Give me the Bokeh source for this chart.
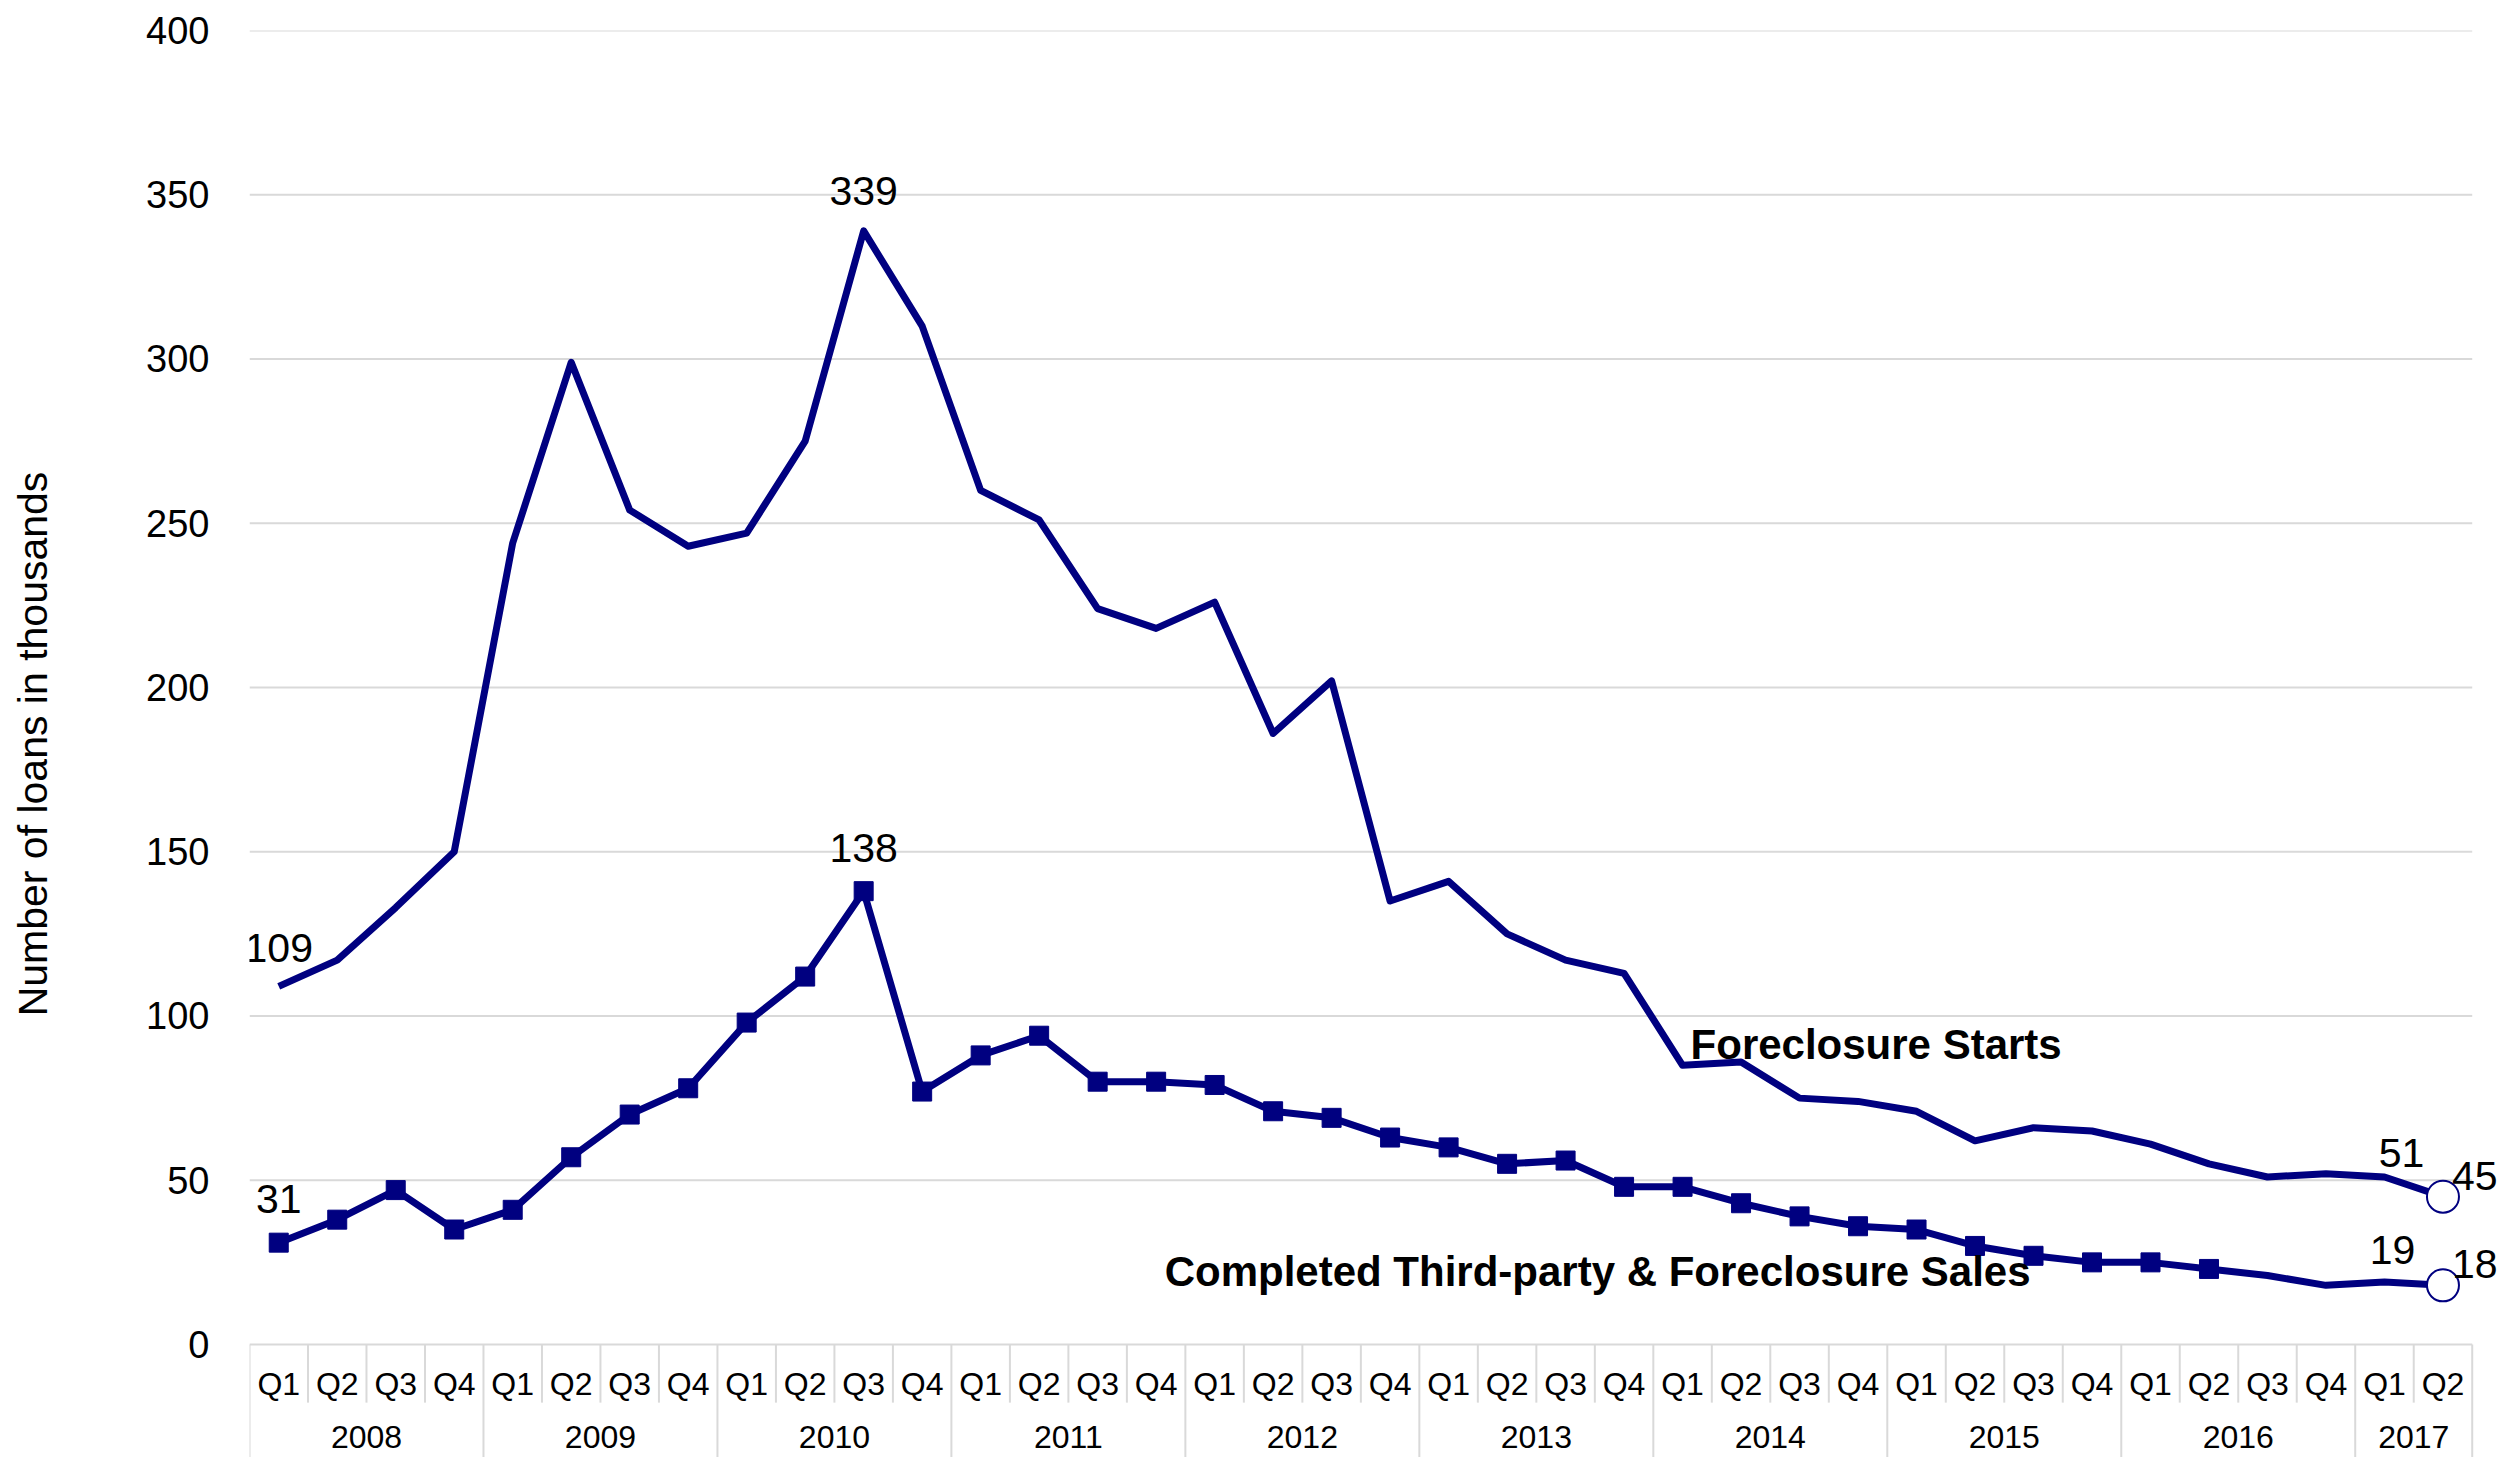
from bokeh.plotting import figure
from bokeh.models import Range1d, FixedTicker, Label
from bokeh.core.properties import value
from bokeh.embed import file_html
from bokeh.resources import INLINE

# ---------------- data ----------------
quarters = ["Q1", "Q2", "Q3", "Q4"] * 9 + ["Q1", "Q2"]
years = ["2008", "2009", "2010", "2011", "2012", "2013", "2014", "2015", "2016", "2017"]

foreclosure_starts = [109, 117, 133, 150, 244, 299, 254, 243, 247, 275,
                      339, 310, 260, 251, 224, 218, 226, 186, 202, 135,
                      141, 125, 117, 113, 85, 86, 75, 74, 71, 62,
                      66, 65, 61, 55, 51, 52, 51, 45]
completed_sales = [31, 38, 47, 35, 41, 57, 70, 78, 98, 112,
                   138, 77, 88, 94, 80, 80, 79, 71, 69, 63,
                   60, 55, 56, 48, 48, 43, 39, 36, 35, 30,
                   27, 25, 25, 23, 21, 18, 19, 18]
y_ticks = [0, 50, 100, 150, 200, 250, 300, 350, 400]

starts_name = "Foreclosure Starts"
sales_name = "Completed Third-party & Foreclosure Sales"
y_title = "Number of loans in thousands"

# ---------------- styles ----------------
NAVY = "#000080"
GRID = "#d9d9d9"
FONT = "Liberation Sans"
Y_BOTTOM = -34.4

n = len(foreclosure_starts)
xs = list(range(n))

p = figure(width=2515, height=1457, output_backend="svg", toolbar_location=None,
           x_range=Range1d(-0.5, n - 0.5 + 0.74), y_range=Range1d(Y_BOTTOM, 400),
           min_border_left=249, min_border_right=0, min_border_top=30,
           min_border_bottom=0, x_axis_location=None)
p.outline_line_color = None
p.background_fill_color = "white"
p.xgrid.visible = False
p.ygrid.visible = False

ax = p.yaxis[0]
ax.ticker = FixedTicker(ticks=y_ticks)
ax.axis_line_color = None
ax.major_tick_line_color = None
ax.minor_tick_line_color = None
ax.major_label_text_font = FONT
ax.major_label_text_font_size = "38px"
ax.major_label_text_color = "black"
ax.major_label_standoff = 34
ax.axis_label = y_title
ax.axis_label_text_font = FONT
ax.axis_label_text_font_size = "41px"
ax.axis_label_text_font_style = "normal"
ax.axis_label_text_color = "black"
ax.axis_label_standoff = 87

# horizontal gridlines (stop at last category)
p.segment(x0=[-0.5] * len(y_ticks), y0=y_ticks, x1=[n - 0.5] * len(y_ticks),
          y1=y_ticks, line_color=GRID, line_width=2)

# category table under the plot (quarter row + year row)
q_sep = [i - 0.5 for i in range(1, n) if i % 4 != 0]
y_sep = [i - 0.5 for i in range(0, n, 4)] + [n - 0.5]
p.segment(x0=q_sep, y0=[0] * len(q_sep), x1=q_sep, y1=[-17.7] * len(q_sep),
          line_color=GRID, line_width=2)
p.segment(x0=y_sep, y0=[0] * len(y_sep), x1=y_sep, y1=[Y_BOTTOM] * len(y_sep),
          line_color=GRID, line_width=2)
p.text(x=xs, y=[-12] * n, text=quarters, text_font=value(FONT),
       text_font_size="32px", text_align="center", text_baseline="middle",
       text_color="black")
year_x = [min(i * 4 + 1.5, (i * 4 + n - 1) / 2) for i in range(len(years))]
p.text(x=year_x, y=[-28.2] * len(years), text=years, text_font=value(FONT),
       text_font_size="32px", text_align="center", text_baseline="middle",
       text_color="black")

# series
p.line(xs, foreclosure_starts, line_color=NAVY, line_width=7, line_join="round")
p.line(xs, completed_sales, line_color=NAVY, line_width=7, line_join="round")
n_sq = 34
p.scatter(xs[:n_sq], completed_sales[:n_sq], marker="square", size=19,
          fill_color=NAVY, line_color=NAVY)
p.scatter([xs[-1], xs[-1]], [foreclosure_starts[-1], completed_sales[-1]],
          marker="circle", size=32, fill_color="white", line_color=NAVY,
          line_width=2)

# data labels
def lab(i, series, dx, dy, align="center"):
    p.add_layout(Label(x=xs[i], y=series[i], text=str(series[i]),
                       x_offset=dx, y_offset=dy, text_align=align,
                       text_baseline="alphabetic", text_font=FONT,
                       text_font_size="41px", text_color="black"))

peak_s = foreclosure_starts.index(max(foreclosure_starts))
peak_c = completed_sales.index(max(completed_sales))
lab(0, foreclosure_starts, 0, 38)
lab(peak_s, foreclosure_starts, 0, 40)
lab(n - 2, foreclosure_starts, 17, 24)
lab(n - 1, foreclosure_starts, 9, 21, "left")
lab(0, completed_sales, 0, 44)
lab(peak_c, completed_sales, 0, 43)
lab(n - 2, completed_sales, 8, 32)
lab(n - 1, completed_sales, 9, 21, "left")

p.add_layout(Label(x=24, y=foreclosure_starts[24], text=starts_name,
                   x_offset=8, y_offset=21, text_align="left",
                   text_baseline="alphabetic", text_font=FONT,
                   text_font_size="42px", text_font_style="bold",
                   text_color="black"))
p.add_layout(Label(x=30, y=completed_sales[30], text=sales_name,
                   x_offset=-3, y_offset=-16, text_align="right",
                   text_baseline="alphabetic", text_font=FONT,
                   text_font_size="42px", text_font_style="bold",
                   text_color="black"))

open("out.html", "w").write(file_html(p, INLINE))
